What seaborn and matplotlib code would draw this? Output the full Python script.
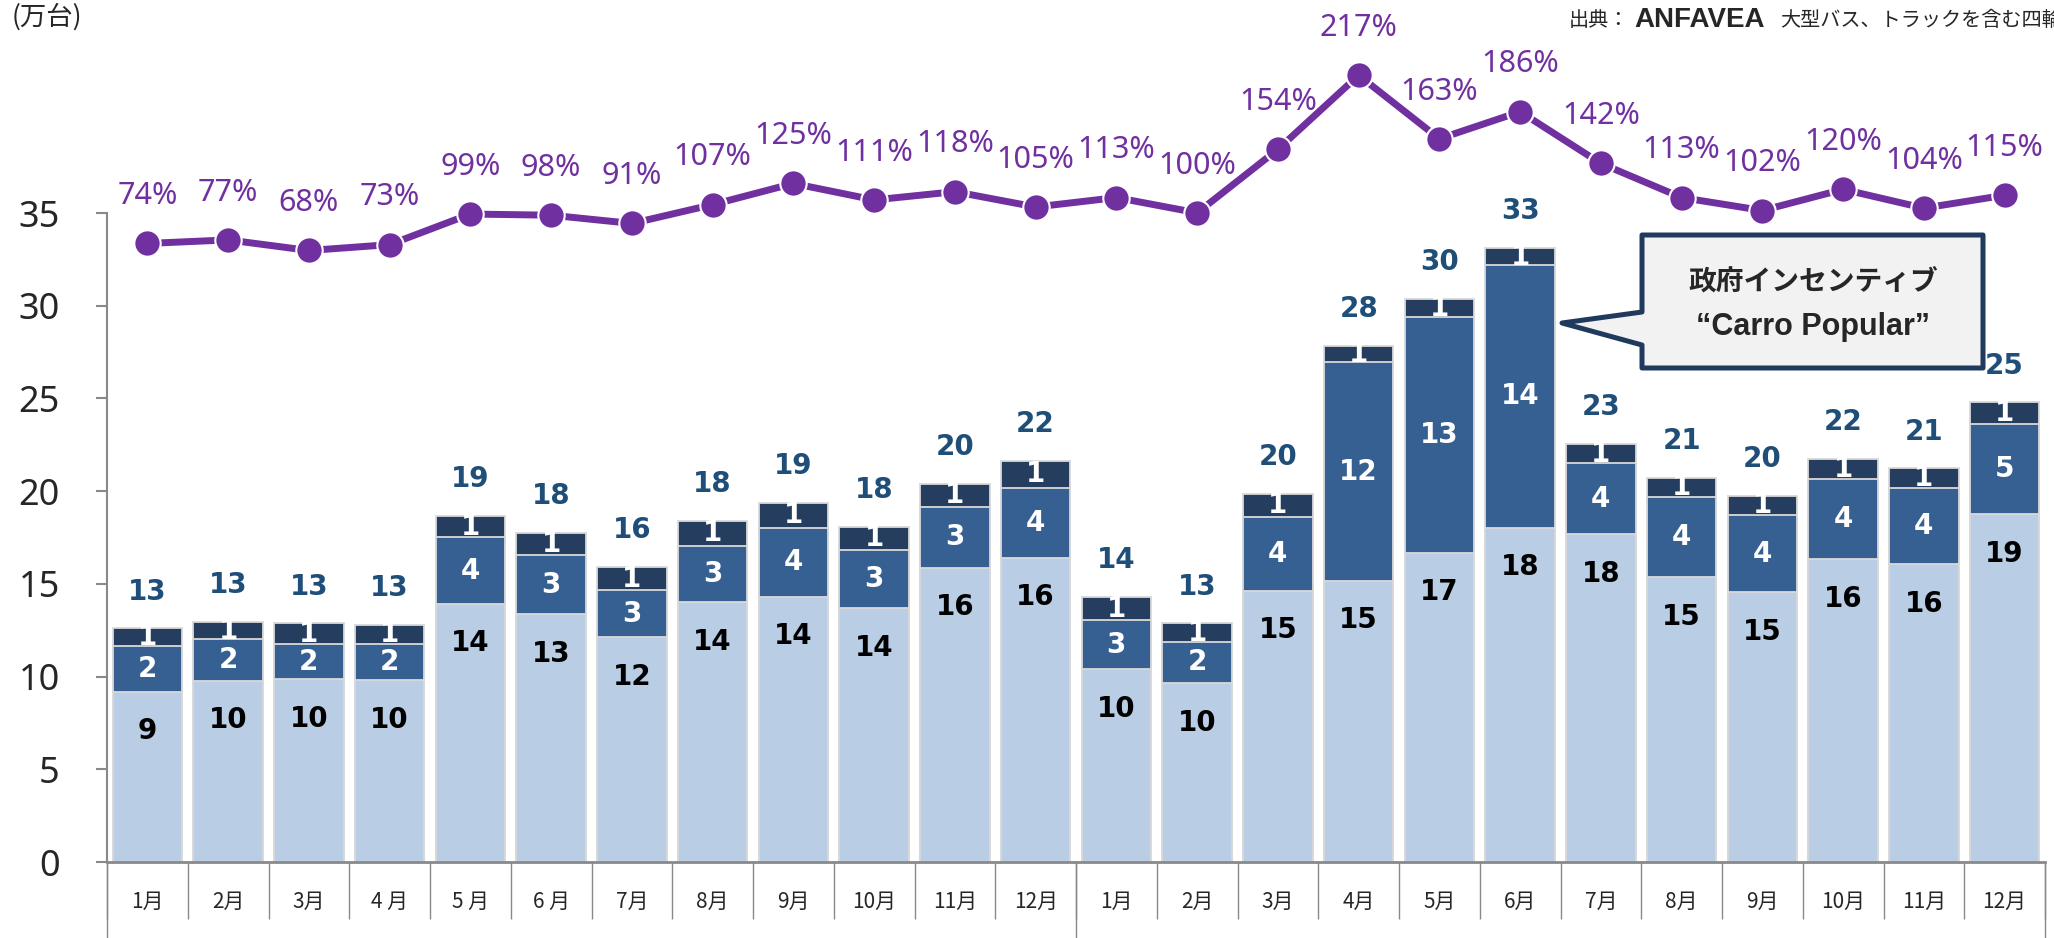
import numpy as np
import matplotlib
matplotlib.use("Agg")
import matplotlib.pyplot as plt
import seaborn as sns
from matplotlib.patches import Polygon

# data (万台), 24 months over two years
months = ["1月", "2月", "3月", "4 月", "5 月", "6 月", "7月", "8月", "9月", "10月", "11月", "12月",
          "1月", "2月", "3月", "4月", "5月", "6月", "7月", "8月", "9月", "10月", "11月", "12月"]
light = [9.19, 9.78, 9.85, 9.82, 13.92, 13.36, 12.12, 14.01, 14.31, 13.68, 15.87, 16.41,
         10.39, 9.65, 14.63, 15.17, 16.68, 18.03, 17.69, 15.36, 14.55, 16.33, 16.07, 18.77]
mid = [2.46, 2.23, 1.89, 1.94, 3.59, 3.2, 2.55, 3.05, 3.72, 3.15, 3.28, 3.78,
       2.66, 2.23, 4.0, 11.78, 12.73, 14.17, 3.81, 4.31, 4.17, 4.33, 4.09, 4.85]
dark = [0.95, 0.92, 1.13, 1.02, 1.15, 1.2, 1.23, 1.35, 1.33, 1.24, 1.24, 1.46,
        1.23, 0.99, 1.22, 0.9, 0.96, 0.9, 1.05, 1.06, 1.02, 1.08, 1.07, 1.17]
pct = [74, 77, 68, 73, 99, 98, 91, 107, 125, 111, 118, 105,
       113, 100, 154, 217, 163, 186, 142, 113, 102, 120, 104, 115]

c_light = "#B9CDE5"
c_mid = "#366092"
c_dark = "#253E5F"
c_total = "#1F4E79"
c_line = "#7030A0"
c_axis = "#898989"

sns.set_style("white")
plt.rcParams['font.family'] = ['Noto Sans', 'Noto Sans CJK JP', 'DejaVu Sans']

W, H = 2054, 938
fig = plt.figure(figsize=(W / 100, H / 100), dpi=100)
ax = fig.add_axes([107 / W, 76 / H, 1938 / W, 862 / H])

idx = np.arange(len(months))
s1 = np.array(light)
s2 = s1 + np.array(mid)
s3 = s2 + np.array(dark)

# layered bars -> stacked look
for h, c in [(s3, c_dark), (s2, c_mid), (s1, c_light)]:
    sns.barplot(x=idx, y=h, color=c, saturation=1, width=0.86, errorbar=None,
                edgecolor="#D9D9D9", linewidth=1.3, ax=ax)

lab = dict(fontfamily="DejaVu Sans", fontweight="bold", fontsize=20, ha="center", va="center")
for i in idx:
    ax.annotate(f"{s1[i]:.0f}", (i, s1[i]), xytext=(0, -28.5), textcoords="offset points",
                color="black", **lab)
    ax.text(i, (s1[i] + s2[i]) / 2, f"{mid[i]:.0f}", color="white", **lab)
    ax.text(i, (s2[i] + s3[i]) / 2, f"{dark[i]:.0f}", color="white", zorder=5, **lab)
    ax.annotate(f"{s3[i]:.0f}", (i, s3[i]), xytext=(0, 26.5), textcoords="offset points",
                color=c_total, **lab)

ax.set_xlim(-0.5, len(months) - 0.5)
ax.set_ylim(0, 46.49)
ax.set_yticks(np.arange(0, 36, 5))
ax.tick_params(axis="y", labelsize=26, length=8, width=1.5, color=c_axis, pad=26, left=True)
for t in ax.get_yticklabels():
    t.set_fontfamily("Noto Sans")

ax.set_xticks(idx)
ax.set_xticklabels(months, fontfamily="Noto Sans CJK JP", fontsize=15)
ax.set_xticks(np.arange(-0.5, len(months)), minor=True)
ax.tick_params(axis="x", which="major", length=0, pad=21)
ax.tick_params(axis="x", which="minor", length=41, width=1, color=c_axis, bottom=True)
for xb in [-0.5, 11.5, len(months) - 0.5]:
    ax.plot([xb, xb], [0, -0.1], transform=ax.get_xaxis_transform(),
            color=c_axis, lw=1, clip_on=False)

for s in ["top", "right"]:
    ax.spines[s].set_visible(False)
ax.spines["left"].set_bounds(0, 35)
ax.spines["left"].set_color(c_axis)
ax.spines["left"].set_linewidth(1.5)
ax.spines["bottom"].set_color(c_axis)
ax.spines["bottom"].set_linewidth(2)
ax.set_xlabel("")
ax.set_ylabel("")

# ratio line on hidden secondary scale
ax2 = ax.twinx()
sns.lineplot(x=idx, y=pct, ax=ax2, color=c_line, lw=5, marker="o", markersize=19,
             markeredgecolor="white", markeredgewidth=1.5)
ax2.set_ylim(-452, 281)
ax2.set_xlim(-0.5, len(months) - 0.5)
ax2.set_axis_off()
for i in idx:
    ax2.annotate(f"{pct[i]}%", (i, pct[i]), xytext=(0, 34), textcoords="offset points",
                 ha="center", va="center", fontsize=22, color=c_line, fontfamily="Noto Sans")

# texts around
fig.text(12 / W, 1 - 17 / H, "(万台)", fontsize=19, va="center", ha="left",
         fontfamily="Noto Sans CJK JP")
fig.text(1569 / W, 1 - 20 / H, "出典：", fontsize=14.5, va="center", ha="left",
         fontfamily="Noto Sans CJK JP")
fig.text(1634 / W, 1 - 20 / H, "ANFAVEA", fontsize=20, va="center", ha="left",
         fontfamily="Liberation Sans", fontweight="bold")
fig.text(1780 / W, 1 - 20 / H, "大型バス、トラックを含む四輪合計", fontsize=14.5, va="center",
         ha="left", fontfamily="Noto Sans CJK JP")

# callout
pts = [(1642, 235), (1983, 235), (1983, 368), (1642, 368), (1642, 345), (1562, 323), (1642, 312)]
poly = Polygon([(x / W, 1 - y / H) for x, y in pts], closed=True, transform=fig.transFigure,
               facecolor="#F2F2F2", edgecolor="#1F3A5C", lw=3.6, joinstyle="round")
fig.add_artist(poly)
fig.text(1813 / W, 1 - 282 / H, "政府インセンティブ", fontsize=20, fontweight="bold",
         ha="center", va="center", fontfamily="Noto Sans CJK JP")
fig.text(1813 / W, 1 - 327 / H, "\u201cCarro Popular\u201d", fontsize=22, fontweight="bold",
         ha="center", va="center", fontfamily="Liberation Sans")

fig.savefig("out.png", dpi=100)
